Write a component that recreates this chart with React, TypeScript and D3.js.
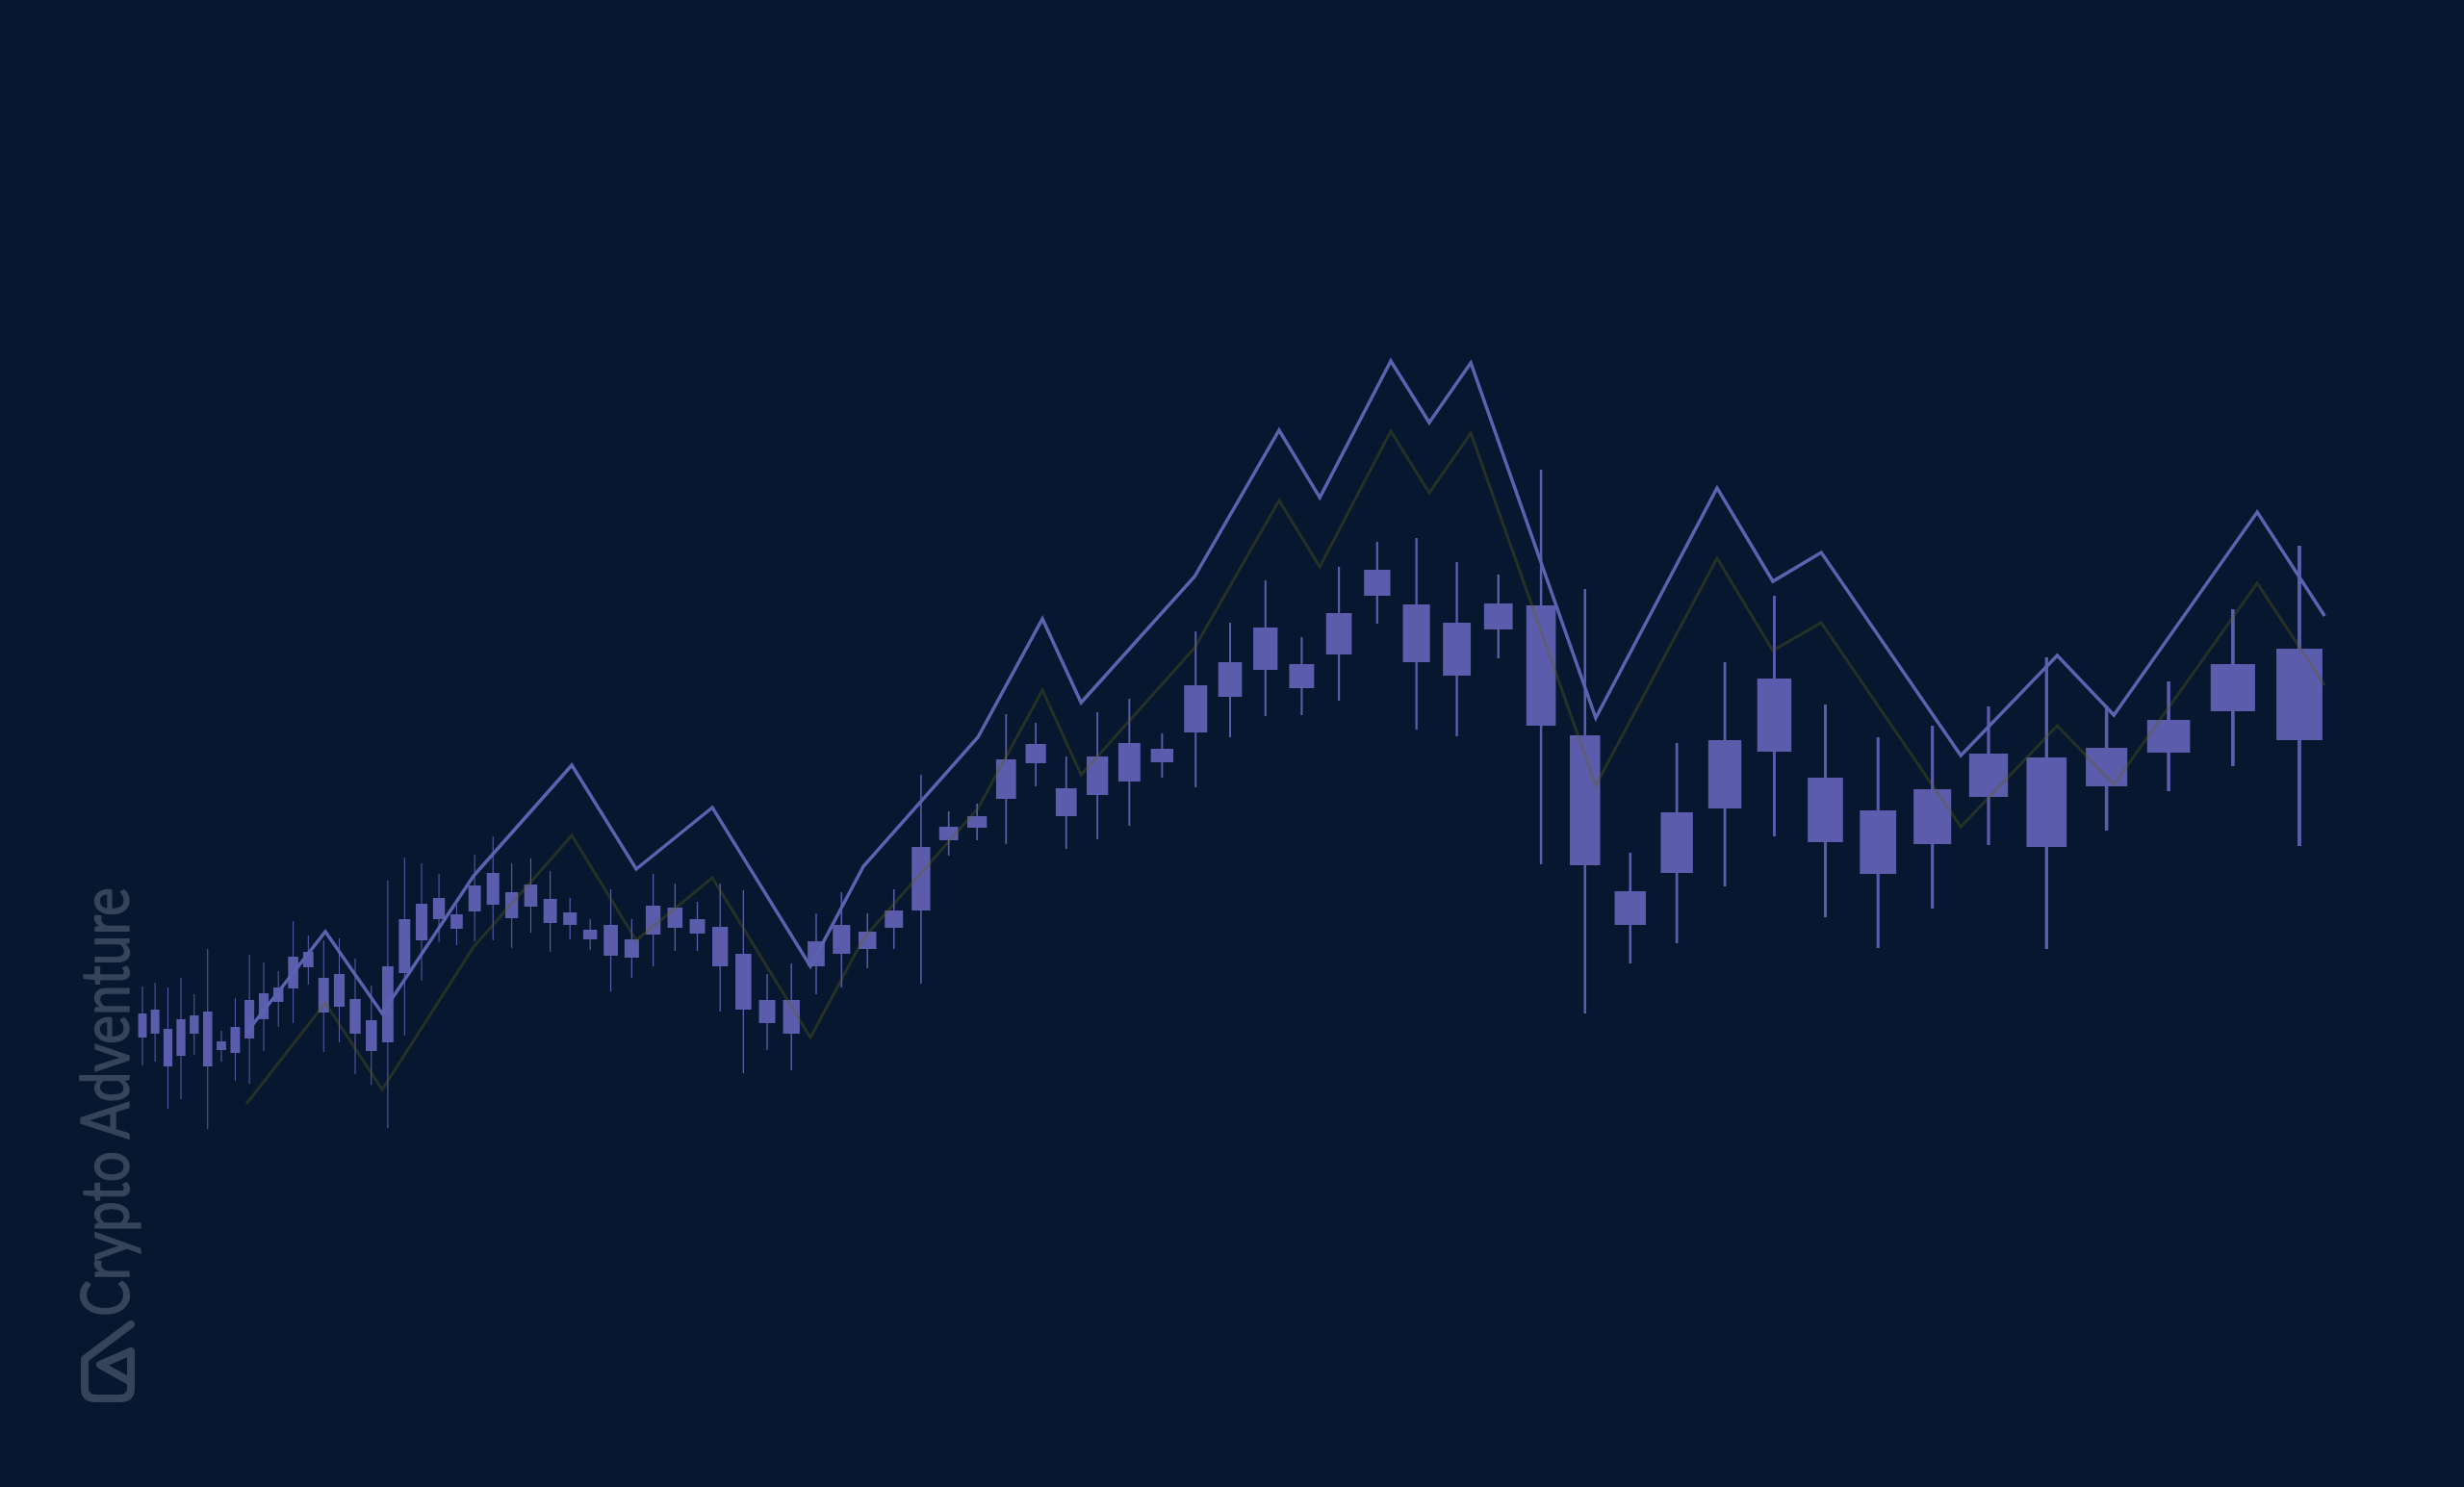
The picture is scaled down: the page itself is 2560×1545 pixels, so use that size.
import React from 'react';
import * as d3 from 'd3';

const W = 2560;
const H = 1545;

// candle data (index 1..75), prices
const highs = [17.5,17.9,17.4,18.4,16.7,21.4,12.9,16.3,20.8,20.0,19.1,24.3,22.8,22.3,22.5,20.4,17.6,28.5,30.9,30.3,29.2,26.0,31.2,33.1,30.3,30.8,29.5,26.7,24.5,27.6,24.5,29.2,28.2,26.3,28.2,27.5,18.8,19.9,25.1,27.3,25.1,27.6,39.5,35.7,36.5,45.8,44.9,41.4,46.0,47.4,43.8,54.4,55.3,59.7,53.8,61.1,63.7,64.1,61.6,60.3,71.2,58.8,31.4,42.8,51.2,58.1,46.8,43.4,44.6,46.6,51.7,46.7,49.2,56.7,63.3];
const lows = [9.3,9.7,4.8,5.8,10.4,2.7,9.7,7.7,7.4,10.8,13.3,13.7,17.7,10.7,11.7,8.4,7.3,2.8,12.4,18.1,22.1,21.8,22.2,22.3,21.5,23.1,21.1,22.4,21.3,17.0,18.4,19.6,21.2,21.2,14.9,8.5,10.9,8.8,16.7,17.4,19.4,21.4,17.8,31.1,32.7,32.3,38.3,31.8,32.8,34.2,39.2,38.2,43.4,45.6,45.7,47.2,55.2,44.2,43.5,51.6,30.2,14.7,19.9,22.0,27.9,33.1,24.7,21.5,25.6,32.2,21.4,33.7,37.8,40.4,32.1];
const opens = [14.7,15.1,13.1,14.1,14.5,14.9,11.8,13.3,16.1,16.8,17.4,20.6,21.1,18.4,18.8,16.2,14.0,19.6,24.5,26.1,26.7,25.0,28.0,29.3,27.3,28.1,26.6,25.2,23.4,23.9,22.4,25.9,25.7,24.5,23.7,20.9,16.1,16.1,22.2,23.9,23.2,25.4,32.0,34.1,35.2,41.1,42.7,38.1,41.4,42.8,42.2,48.8,51.2,54.8,51.0,56.3,60.8,57.2,55.3,57.3,57.1,43.6,27.4,35.6,43.1,49.5,39.2,35.8,38.0,41.7,41.3,42.3,45.2,51.0,52.6];
const closes = [12.2,12.6,9.2,10.3,12.6,9.2,10.9,10.6,12.1,14.1,15.9,17.3,19.5,14.8,15.4,12.6,10.8,11.7,18.9,22.3,24.5,23.5,25.3,26.0,24.6,25.8,24.1,23.9,22.4,20.7,20.5,22.9,23.6,23.0,19.6,15.1,13.7,12.6,19.6,20.9,21.4,23.6,25.4,32.7,34.0,37.0,40.7,35.2,37.4,38.8,40.8,43.9,47.6,50.4,48.5,52.0,58.1,51.2,49.8,54.6,44.6,30.1,23.9,29.3,36.0,41.9,32.5,29.2,32.3,37.2,32.0,38.3,41.8,46.1,43.1];

// trend lines: position along the period axis and values
const trendPos = [8.79,14.11,17.66,22.94,28.09,31.21,34.66,38.77,40.85,45.03,47.22,48.48,51.97,54.38,55.49,57.35,58.32,59.34,62.24,64.84,65.97,66.92,69.51,71.18,72.12,74.37,75.37];
const upperLine = [12.7,23.2,14.7,29.0,40.5,29.7,36.1,19.6,30.0,43.4,55.7,47.0,60.1,75.3,68.3,82.5,76.1,82.3,45.4,69.3,59.6,62.6,41.5,51.9,45.7,66.8,56.0];
const lowerLine = [5.3,15.8,6.8,21.6,33.2,22.3,28.8,12.2,22.5,36.0,48.3,39.5,52.7,68.0,61.1,75.2,68.8,75.0,38.4,62.0,52.4,55.3,34.1,44.6,38.5,59.4,48.8];

const HORIZON = 130.9;
const depth = (t: number) => 1 / (HORIZON - t);
const xScale = d3.scaleLinear().domain([depth(1), depth(highs.length)]).range([148, 2389]);
const X = (t: number) => xScale(depth(t));
const yScale = d3.scaleLinear().domain([0, 72]).range([1200, 480]);

const BG = '#081730';
const CANDLE = '#5c5cad';
const MARK = '#35445a';

export default function App() {
  const candles = highs.map((h, k) => {
    const i = k + 1;
    const cx = X(i);
    const sp = X(i + 0.5) - X(i - 0.5);
    const bw = sp * 0.68;
    const ww = Math.max(1, sp * 0.055);
    const top = yScale(Math.max(opens[k], closes[k]));
    const bot = yScale(Math.min(opens[k], closes[k]));
    return (
      <g key={k}>
        <rect x={cx - ww / 2} y={yScale(h)} width={ww} height={yScale(lows[k]) - yScale(h)} fill={CANDLE} />
        <rect x={cx - bw / 2} y={top} width={bw} height={Math.max(1, bot - top)} fill={CANDLE} />
      </g>
    );
  });

  const line = d3
    .line<number>()
    .x((_, j) => X(trendPos[j]))
    .y((v) => yScale(v));

  return (
    <svg
      width={W}
      height={H}
      viewBox={`0 0 ${W} ${H}`}
      style={{ position: 'absolute', left: 0, top: 0, display: 'block', background: BG }}
    >
      <rect x={0} y={0} width={W} height={H} fill={BG} />
      {/* watermark */}
      <text
        transform="translate(134,1368) rotate(-90)"
        fontFamily="Lato, 'Open Sans', sans-serif"
        fontSize={70}
        textLength={446}
        lengthAdjust="spacingAndGlyphs"
        fill={MARK}
        stroke={MARK}
        strokeWidth={1.4}
      >
        Crypto Adventure
      </text>
      <g fill="none" stroke={MARK} strokeWidth={8} strokeLinejoin="round" strokeLinecap="round">
        <path d="M136,1376 L88,1412 L88,1442 Q88,1453 99,1453 L125,1453 Q136,1453 136,1442 L136,1404" />
        <path d="M136,1404 L104,1418 L136,1436" />
      </g>
      {candles}
      <path d={line(lowerLine) || ''} fill="none" stroke="#5e6010" strokeOpacity={0.35} strokeWidth={3} strokeLinejoin="miter" />
      <path d={line(upperLine) || ''} fill="none" stroke="#5b63b0" strokeWidth={3.5} strokeLinejoin="miter" />
    </svg>
  );
}
